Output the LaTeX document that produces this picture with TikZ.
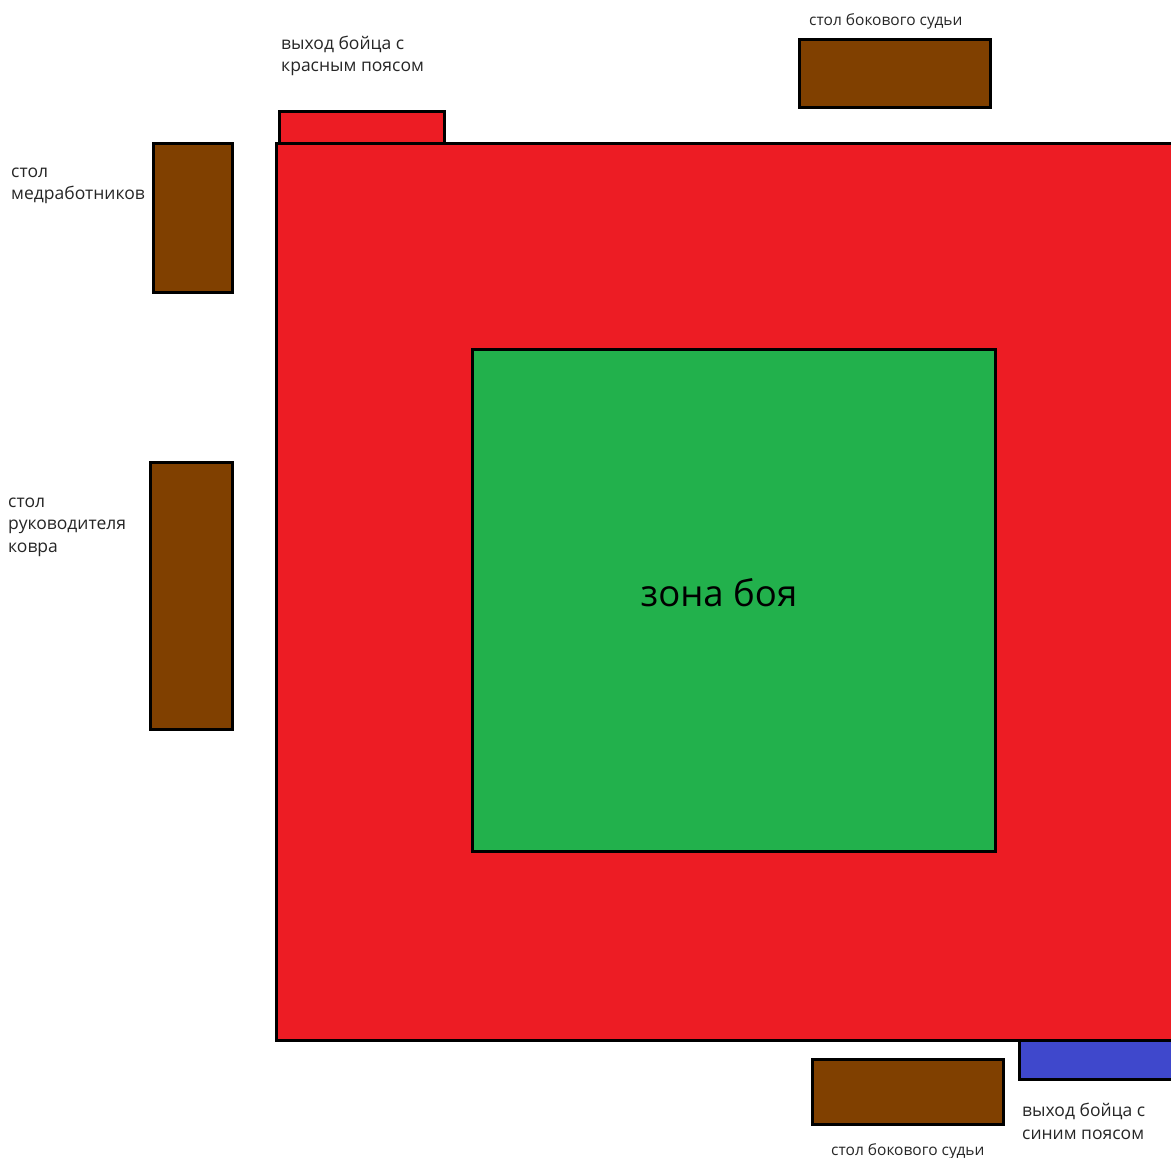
\documentclass[tikz,border=0pt]{standalone}
\usepackage{fontspec}
\setmainfont{Open Sans}
\definecolor{matred}{RGB}{237,28,36}
\definecolor{zonegreen}{RGB}{34,177,76}
\definecolor{tablebrown}{RGB}{128,64,0}
\definecolor{exitblue}{RGB}{63,72,204}
\begin{document}
\begin{tikzpicture}[x=1pt,y=-1pt,
  box/.style={draw=black,line width=3pt,anchor=north west,inner sep=0pt,outer sep=0pt},
  lbl/.style={anchor=base west,inner sep=0pt,align=left,text=black!85,font=\fontsize{17.5}{22.5}\selectfont},
  slbl/.style={anchor=base west,inner sep=0pt,text=black!85,font=\fontsize{15.5}{18}\selectfont}]
\useasboundingbox (0,0) rectangle (1171,1158);
\clip (0,0) rectangle (1171,1158);
\fill[white] (0,0) rectangle (1171,1158);
% red fighter exit
\node[box,fill=matred,minimum width=165pt,minimum height=40pt] (redexit) at (279,112) {};
% mat
\node[box,fill=matred,minimum width=950pt,minimum height=896pt] (mat) at (276,144) {};
% fight zone
\node[box,fill=zonegreen,minimum width=523pt,minimum height=501pt] (zone) at (472,350) {};
\node[font=\fontsize{36.5}{40}\selectfont] (zonelbl) at (719,593) {зона боя};
% blue fighter exit
\node[box,fill=exitblue,minimum width=200pt,minimum height=39pt] (blueexit) at (1019,1040) {};
% tables
\node[box,fill=tablebrown,minimum width=79pt,minimum height=149pt] (med) at (153,144) {};
\node[box,fill=tablebrown,minimum width=82pt,minimum height=267pt] (dir) at (150,462) {};
\node[box,fill=tablebrown,minimum width=191pt,minimum height=68pt] (judgetop) at (799,40) {};
\node[box,fill=tablebrown,minimum width=191pt,minimum height=65pt] (judgebot) at (812,1059) {};
% labels
\node[slbl] (tjl) at (809,26) {стол бокового судьи};
\node[slbl] (bjl) at (831,1155) {стол бокового судьи};
\node[lbl] (redl) at (281,72) {выход бойца с\\красным поясом};
\node[lbl] (medl) at (11,200) {стол\\медработников};
\node[lbl] (dirl) at (8,552) {стол\\руководителя\\ковра};
\node[lbl] (bluel) at (1022,1139) {выход бойца с\\синим поясом};
\end{tikzpicture}
\end{document}
